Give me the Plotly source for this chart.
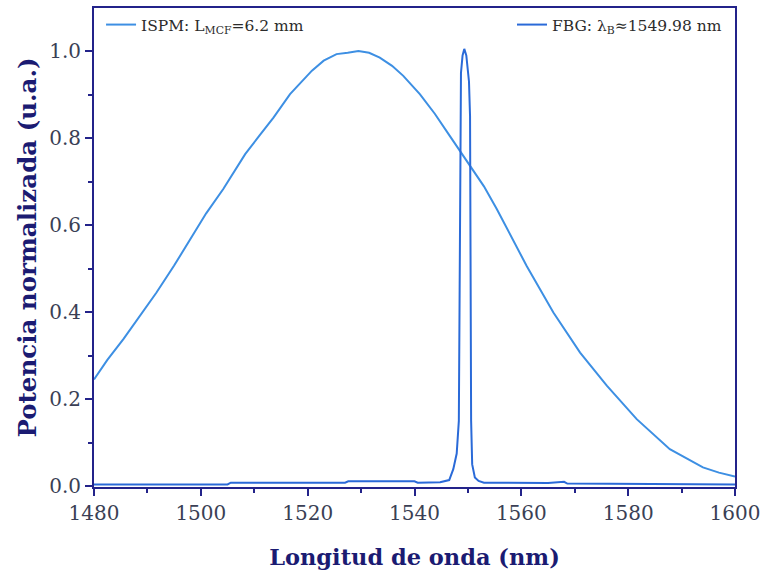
import plotly.graph_objects as go

# ISPM spectrum
ispm_wl = [1480.0, 1482.5, 1485.5, 1488.5, 1491.7, 1495.0, 1498.0, 1501.0, 1504.2, 1508.3, 1511.0,
           1513.6, 1516.7, 1519.0, 1520.8, 1523.0, 1525.4, 1527.5, 1529.5, 1531.5, 1533.5,
           1535.8, 1537.9, 1541.0, 1543.8, 1546.6, 1550.4, 1553.0, 1555.4, 1558.0, 1561.0,
           1566.0, 1571.0, 1576.0, 1581.6, 1587.8, 1594.0, 1597.0, 1600.0]
ispm_val = [0.245, 0.290, 0.338, 0.390, 0.445, 0.507, 0.568, 0.627, 0.683, 0.763, 0.806,
            0.847, 0.901, 0.930, 0.955, 0.978, 0.993, 0.996, 1.000, 0.996, 0.985,
            0.966, 0.943, 0.901, 0.856, 0.805, 0.736, 0.689, 0.637, 0.577, 0.506,
            0.399, 0.307, 0.231, 0.154, 0.085, 0.043, 0.031, 0.022]

# FBG reflection spectrum
fbg_wl = [1480.0, 1505.0, 1505.6, 1527.0, 1527.6, 1540.0, 1540.6, 1544.8, 1546.5, 1547.26,
          1547.9, 1548.3, 1548.45, 1548.55, 1548.7, 1549.0, 1549.32, 1549.7, 1550.2, 1550.4,
          1550.5, 1550.6, 1550.8, 1551.3, 1552.0, 1553.0, 1565.0, 1568.0, 1568.6, 1600.0]
fbg_val = [0.004, 0.004, 0.008, 0.008, 0.011, 0.011, 0.008, 0.009, 0.014, 0.039,
           0.075, 0.15, 0.45, 0.85, 0.95, 0.99, 1.005, 0.99, 0.93, 0.85,
           0.50, 0.15, 0.05, 0.02, 0.012, 0.008, 0.007, 0.010, 0.006, 0.004]

x_ticks = [1480, 1500, 1520, 1540, 1560, 1580, 1600]
y_ticks = [0.0, 0.2, 0.4, 0.6, 0.8, 1.0]

AX = "#23238a"
TXT = "#3a3f55"
TITLE = "#1b1b72"
SERIF = "DejaVu Serif"

fig = go.Figure()
fig.add_trace(go.Scatter(x=ispm_wl, y=ispm_val, mode="lines", line=dict(color="#3d8fe3", width=2),
                         name="ISPM: L<sub>MCF</sub>=6.2 mm", legend="legend", showlegend=True))
fig.add_trace(go.Scatter(x=fbg_wl, y=fbg_val, mode="lines", line=dict(color="#2a6ad8", width=2),
                         name="FBG: λ<sub>B</sub>≈1549.98 nm", legend="legend2", showlegend=True))

axis_common = dict(showgrid=False, zeroline=False, showline=True, linecolor=AX, linewidth=2,
                   mirror=True, ticks="outside", ticklen=7, tickwidth=2, tickcolor=AX,
                   automargin=False,
                   tickfont=dict(family=SERIF, size=20, color=TXT))

fig.update_xaxes(range=[1480, 1600], tickvals=x_ticks, ticktext=[str(v) for v in x_ticks],
                 minor=dict(dtick=10, ticks="outside", ticklen=4, tickwidth=2, tickcolor=AX, tick0=1480),
                 title=dict(text="<b>Longitud de onda (nm)</b>", font=dict(family=SERIF, size=22.5, color=TITLE), standoff=25),
                 **axis_common)
fig.update_yaxes(range=[-0.002, 1.099], tickvals=y_ticks, ticktext=[f"{v:.1f}" for v in y_ticks],
                 minor=dict(dtick=0.1, ticks="outside", ticklen=4, tickwidth=2, tickcolor=AX, tick0=0),
                 title=dict(text="<b>Potencia normalizada (u.a.)</b>", font=dict(family=SERIF, size=24.5, color=TITLE), standoff=6),
                 **axis_common)

leg_font = dict(family=SERIF, size=15.5, color="#2b2b2b")
fig.update_layout(
    width=761, height=576,
    margin=dict(l=94, r=26, t=8, b=89),
    paper_bgcolor="white", plot_bgcolor="white",
    showlegend=True,
    legend=dict(x=0.011, y=1.0, xanchor="left", yanchor="top", bgcolor="rgba(0,0,0,0)", font=leg_font),
    legend2=dict(x=0.9875, y=1.0, xanchor="right", yanchor="top", bgcolor="rgba(0,0,0,0)", font=leg_font),
)

fig.write_html("out.html", config={"displayModeBar": False},
               post_script="document.body.style.margin='0px';document.body.style.overflow='hidden';")
